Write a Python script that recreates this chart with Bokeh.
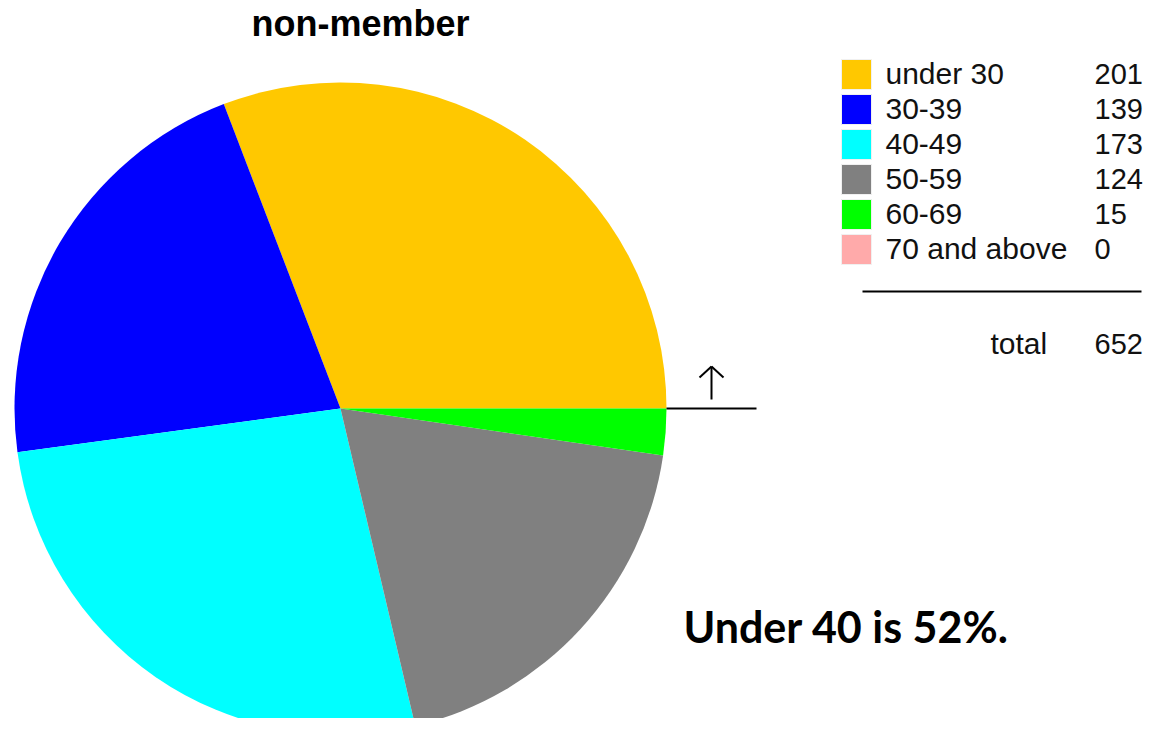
import numpy as np
from bokeh.plotting import figure
from bokeh.models import Range1d, ColumnDataSource
from bokeh.core.properties import value
from bokeh.embed import file_html
from bokeh.resources import INLINE

# ---- data ----
categories = ["under 30", "30-39", "40-49", "50-59", "60-69", "70 and above"]
counts = [201, 139, 173, 124, 15, 0]
colors = ["#FFC800", "#0000FF", "#00FFFF", "#808080", "#00FF00", "#FFAAAA"]
title_text = "non-member"
total_label = "total"
note_text = "Under 40 is 52%."

W, H = 1143, 718

def Y(ry):
    return H - ry

p = figure(width=W, height=H, output_backend="svg", toolbar_location=None,
           x_range=Range1d(0, W), y_range=Range1d(0, H), min_border=0)
p.axis.visible = False
p.grid.visible = False
p.outline_line_color = None
p.background_fill_color = "white"
p.border_fill_color = "white"

# ---- pie ----
vals = np.array(counts, dtype=float)
ends = np.cumsum(vals) / vals.sum() * 2 * np.pi
starts = np.concatenate([[0.0], ends[:-1]])
keep = vals > 0
src = ColumnDataSource(dict(start=starts[keep], end=ends[keep],
                            color=[c for c, k in zip(colors, keep) if k]))
cx, cy, r = 340, Y(408), 326
p.wedge(x=cx, y=cy, radius=r, start_angle="start", end_angle="end",
        direction="anticlock", fill_color="color", line_color=None, source=src)

# baseline marker and arrow to the right of the pie
p.segment(x0=[666], y0=[Y(408)], x1=[756], y1=[Y(408)], line_color="black", line_width=2)
p.segment(x0=[711, 699, 723], y0=[Y(399), Y(377), Y(377)],
          x1=[711, 711, 711], y1=[Y(366), Y(366), Y(366)], line_color="black", line_width=2)

# ---- title ----
p.text(x=[360], y=[Y(23)], text=[title_text], text_font=value("Liberation Sans"),
       text_font_style="bold", text_font_size="36px", text_align="center",
       text_baseline="alphabetic", text_color="black")

# ---- legend ----
n = len(categories)
rows = np.arange(n)
top = np.array([Y(59 + 35 * i) for i in rows])
bot = np.array([Y(89 + 35 * i) for i in rows])
p.quad(left=841, right=871, top=top, bottom=bot, fill_color=colors,
       line_color="#f0f0f0", line_width=1)
base = [Y(73 + 35 * i) for i in rows]
p.text(x=[885] * n, y=base, text=categories, text_font=value("Liberation Sans"),
       text_font_size="30px", text_baseline="alphabetic", text_color="#111111")
p.text(x=[1094] * n, y=base, text=[str(c) for c in counts],
       text_font=value("Liberation Sans"), text_font_size="29px",
       text_baseline="alphabetic", text_color="#111111")
p.segment(x0=[862], y0=[Y(291)], x1=[1141], y1=[Y(291)], line_color="black", line_width=2)
p.text(x=[990], y=[Y(343)], text=[total_label], text_font=value("Liberation Sans"),
       text_font_size="30px", text_baseline="alphabetic", text_color="#111111")
p.text(x=[1094], y=[Y(343)], text=[str(int(sum(counts)))], text_font=value("Liberation Sans"),
       text_font_size="29px", text_baseline="alphabetic", text_color="#111111")

# ---- note ----
p.text(x=[683], y=[Y(626)], text=[note_text], text_font=value("Lato"),
       text_font_style="bold", text_font_size="43px", text_baseline="alphabetic",
       text_color="black")

open("out.html", "w").write(file_html(p, INLINE))
